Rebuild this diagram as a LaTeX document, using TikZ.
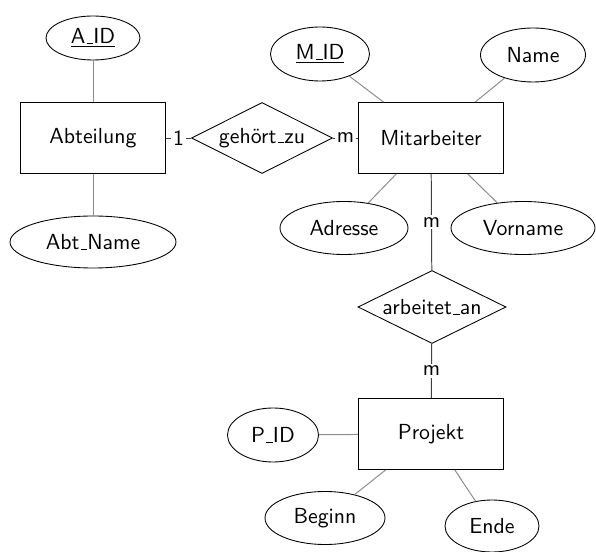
\documentclass[tikz,border=0pt]{standalone}
\usetikzlibrary{shapes.geometric}
\newcommand\pxu{0.4587pt}
\newcommand\us{\leavevmode\kern.06em\vbox{\hrule width.3em}}
\begin{document}
\begin{tikzpicture}[x=0.4587pt,y=-0.4587pt,font=\sffamily,
  entity/.style={draw,rectangle,inner sep=0pt,minimum width=145*\pxu,minimum height=71*\pxu},
  attr/.style={draw,ellipse,inner sep=0pt},
  rel/.style={draw,diamond,aspect=2,inner sep=0pt},
  aline/.style={draw=black!45,line width=0.45pt},
  rline/.style={draw=black!75,line width=0.45pt},
  card/.style={fill=white,inner sep=1pt}]
\useasboundingbox (0,0) rectangle (596,552);
% entities
\node[entity] (abt) at (93,138) {Abteilung};
\node[entity] (mit) at (431,138) {Mitarbeiter};
\node[entity] (proj) at (431,434) {Projekt};
% relationships
\node[rel,minimum width=141*\pxu,minimum height=71*\pxu] (geh) at (262,138) {gehört\us zu};
\node[rel,minimum width=148*\pxu,minimum height=73*\pxu] (arb) at (432,307) {arbeitet\us an};
% attributes
\node[attr,minimum width=94*\pxu,minimum height=44*\pxu] (aid) at (93,38) {\underline{A\us ID}};
\node[attr,minimum width=166*\pxu,minimum height=52*\pxu] (aname) at (93,242) {Abt\us Name};
\node[attr,minimum width=99*\pxu,minimum height=54*\pxu] (mid) at (320,54) {\underline{M\us ID}};
\node[attr,minimum width=105*\pxu,minimum height=54*\pxu] (name) at (533,55) {Name};
\node[attr,minimum width=128*\pxu,minimum height=53*\pxu] (adr) at (344,228) {Adresse};
\node[attr,minimum width=144*\pxu,minimum height=53*\pxu] (vor) at (523,228) {Vorname};
\node[attr,minimum width=91*\pxu,minimum height=54*\pxu] (pid) at (273,435) {P\us ID};
\node[attr,minimum width=120*\pxu,minimum height=53*\pxu] (beg) at (325,518) {Beginn};
\node[attr,minimum width=94*\pxu,minimum height=52*\pxu] (ende) at (492,526) {Ende};
% attribute lines
\path[aline] (aid) -- (abt);
\path[aline] (aname) -- (abt);
\path[aline] (mid) -- (mit);
\path[aline] (name) -- (mit);
\path[aline] (adr) -- (mit);
\path[aline] (vor) -- (mit);
\path[aline] (pid) -- (proj);
\path[aline] (beg) -- (proj);
\path[aline] (ende) -- (proj);
% relationship lines
\path[rline] (abt) -- node[card] {1} (geh);
\path[rline] (geh) -- node[card] {m} (mit);
\path[rline] (mit) -- node[card] {m} (arb);
\path[rline] (arb) -- node[card] {m} (proj);
\end{tikzpicture}
\end{document}
